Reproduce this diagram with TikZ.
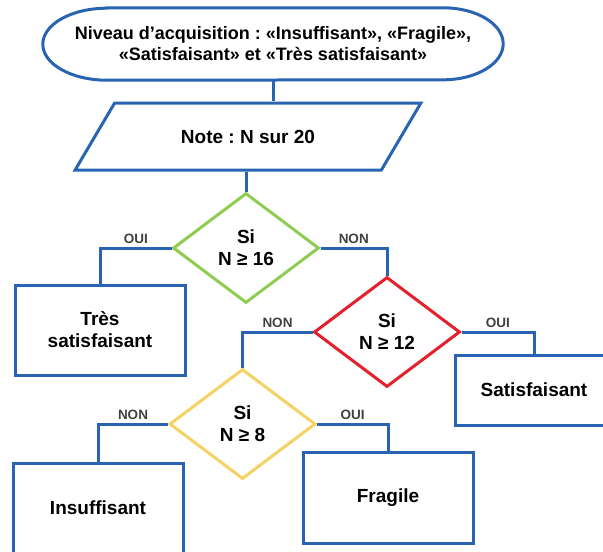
\documentclass[tikz,border=0pt]{standalone}
\usepackage{fontspec}
\setmainfont{Liberation Sans}
\usepackage{xcolor}
\usepackage{tikz}
\usetikzlibrary{shapes,arrows,calc}
\definecolor{flowblue}{RGB}{40,100,178}
\definecolor{flowgreen}{RGB}{142,204,82}
\definecolor{flowred}{RGB}{228,32,44}
\definecolor{flowyellow}{RGB}{247,210,98}
\frenchspacing

\begin{document}
\begin{tikzpicture}[
    x=1pt, y=1pt,
    boxtxt/.style={font={\fontsize{19}{22}\selectfont\bfseries}},
    result/.style={draw=flowblue, line width=3pt, minimum width=170pt,
                   minimum height=90pt, align=center, boxtxt},
    test/.style={diamond, line width=3pt, aspect=1.33, inner sep=0pt,
                 minimum width=146pt, minimum height=110pt, align=center, boxtxt},
    link/.style={draw=flowblue, line width=3pt},
    lbl/.style={font={\fontsize{13.5}{15}\selectfont\bfseries}, text=black!75, inner sep=2.5pt}
]
    \useasboundingbox (0,0) rectangle (603,-552);

    % Start / end shape
    \node[minimum width=460pt, minimum height=72pt, align=center,
          font={\fontsize{18}{21}\selectfont\bfseries}] (start) at (273,-44)
        {Niveau d’acquisition : «Insuffisant», «Fragile»,\\«Satisfaisant» et «Très satisfaisant»};
    \draw[link] ([xshift=64pt]start.north west) -- ([xshift=-60pt]start.north east)
        arc[start angle=90, end angle=-90, x radius=60pt, y radius=36pt]
        -- ([xshift=64pt]start.south west)
        arc[start angle=270, end angle=90, x radius=64pt, y radius=36pt] -- cycle;

    % Input
    \node[trapezium, trapezium left angle=44, trapezium right angle=136,
          trapezium stretches=true, draw=flowblue, line width=3pt,
          minimum width=346pt, minimum height=67pt, boxtxt] (note) at (248,-136.5) {Note : N sur 20};

    % Tests
    \node[test, draw=flowgreen] (green) at (246,-248) {Si\\N ≥ 16};
    \node[test, draw=flowred] (red) at (387,-332) {Si\\N ≥ 12};
    \node[test, draw=flowyellow] (yellow) at (242.5,-424) {Si\\N ≥ 8};

    % Results
    \node[result] (tres) at (100,-330) {Très\\satisfaisant};
    \node[result, minimum width=158pt, minimum height=70pt] (sat) at (534,-390) {Satisfaisant};
    \node[result] (insuff) at (98,-508) {Insuffisant};
    \node[result, minimum height=91pt] (fragile) at (388,-497.5) {Fragile};

    % Links
    \draw[link] (start.south) -- (start.south |- note.north);
    \draw[link] (note.south -| green.north) -- (green.north);
    \draw[link] (green.west) -| (tres.north) node[lbl, pos=0.25, above] {OUI};
    \draw[link] (green.east) -| (red.north) node[lbl, pos=0.25, above] {NON};
    \draw[link] (red.west) -| (yellow.north) node[lbl, pos=0.25, above] {NON};
    \draw[link] (red.east) -| (sat.north) node[lbl, pos=0.25, above] {OUI};
    \draw[link] (yellow.west) -| (insuff.north) node[lbl, pos=0.25, above] {NON};
    \draw[link] (yellow.east) -| (fragile.north) node[lbl, pos=0.25, above] {OUI};
\end{tikzpicture}
\end{document}
